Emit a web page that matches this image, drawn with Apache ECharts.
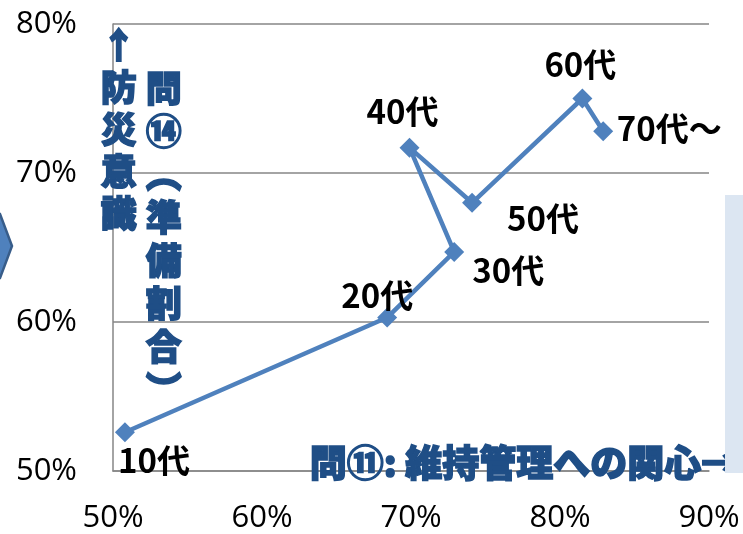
<!DOCTYPE html>
<html>
<head>
<meta charset="utf-8">
<script src="https://cdn.jsdelivr.net/npm/echarts@6/dist/echarts.min.js"></script>
<style>
html,body{margin:0;padding:0;background:#fff;}
#c{width:743px;height:534px;}
</style>
</head>
<body>
<div id="c"></div>
<script>
// Data
const ageGroups = ['10代', '20代', '30代', '40代', '50代', '60代', '70代～'];
const interestPct = [50.8, 68.4, 72.9, 69.9, 74.1, 81.5, 82.9];      // 問⑪ 維持管理への関心 (x)
const preparedPct = [52.6, 60.3, 64.7, 71.7, 68.0, 75.0, 72.8];      // 問⑭ 準備割合 (y)
const xTicks = [50, 60, 70, 80, 90];
const yTicks = [50, 60, 70, 80];
const yTitleA = '↑防災意識';
const yTitleB = '問⑭︵準備割合︶';
const xTitle = '問⑪: 維持管理への関心→';

// label placement (relative to each point), kept apart from the data
const labelOffsets = [[29, 28], [-10, -22], [54, 18], [-7, -36], [71, 16], [-2, -34], [66, -3]];

const chart = echarts.init(document.getElementById('c'), null, {renderer: 'canvas'});
const blue = '#1f4e86';
const cjk = '"Noto Sans CJK JP", "Noto Sans CJK SC", sans-serif';
const tickFont = '"Open Sans", "Liberation Sans", sans-serif';

const pts = ageGroups.map((name, i) => ({
  name: name,
  value: [interestPct[i], preparedPct[i]],
  label: {offset: labelOffsets[i]}
}));

const option = {
  animation: false,
  backgroundColor: '#ffffff',
  grid: {left: 113, right: 34, top: 24, bottom: 63},
  xAxis: {
    type: 'value',
    min: xTicks[0], max: xTicks[xTicks.length - 1], interval: 10,
    axisLine: {show: true, lineStyle: {color: '#868686', width: 1.5}},
    axisTick: {show: false},
    splitLine: {show: false},
    axisLabel: {formatter: '{value}%', fontFamily: tickFont, fontSize: 31, color: '#000', margin: 32}
  },
  yAxis: {
    type: 'value',
    min: yTicks[0], max: yTicks[yTicks.length - 1], interval: 10,
    axisLine: {show: true, lineStyle: {color: '#868686', width: 1.5}},
    axisTick: {show: false},
    splitLine: {show: true, lineStyle: {color: '#868686', width: 1.5}},
    axisLabel: {formatter: '{value}%', fontFamily: tickFont, fontSize: 31, color: '#000', margin: 36}
  },
  series: [{
    type: 'line',
    data: pts,
    symbol: 'diamond',
    symbolSize: 20,
    lineStyle: {color: '#4f81bd', width: 4.5},
    itemStyle: {color: '#4f81bd'},
    z: 5,
    label: {
      show: true,
      position: 'inside',
      formatter: p => p.name,
      fontFamily: cjk,
      fontWeight: 'bold',
      fontSize: 33,
      color: '#000',
      align: 'center',
      verticalAlign: 'middle'
    }
  }],
  graphic: [
    {
      type: 'text', left: 100, top: 24, z: 10,
      style: {text: yTitleA.split('').join('\n'), font: '900 36px ' + cjk, fill: blue, stroke: blue, lineWidth: 1.5, lineHeight: 42, align: 'center', width: 40}
    },
    {
      type: 'text', left: 145, top: 67, z: 10,
      style: {text: yTitleB.split('').join('\n'), font: '900 36px ' + cjk, fill: blue, stroke: blue, lineWidth: 1.5, lineHeight: 43, align: 'center', width: 40}
    },
    {
      type: 'text', left: 309, top: 444, z: 10,
      style: {text: xTitle, font: '900 37px ' + cjk, fill: blue, stroke: blue, lineWidth: 1.5}
    },
    {
      type: 'rect', shape: {x: 725, y: 195, width: 30, height: 278}, z: 20,
      style: {fill: '#dce6f2'}
    },
    {
      type: 'polygon', shape: {points: [[-20, 214], [0, 214], [12, 246], [0, 278], [-20, 278]]}, z: 20,
      style: {fill: '#4f81bd', stroke: '#385d8a', lineWidth: 2.5}
    }
  ]
};
chart.setOption(option);
</script>
</body>
</html>
